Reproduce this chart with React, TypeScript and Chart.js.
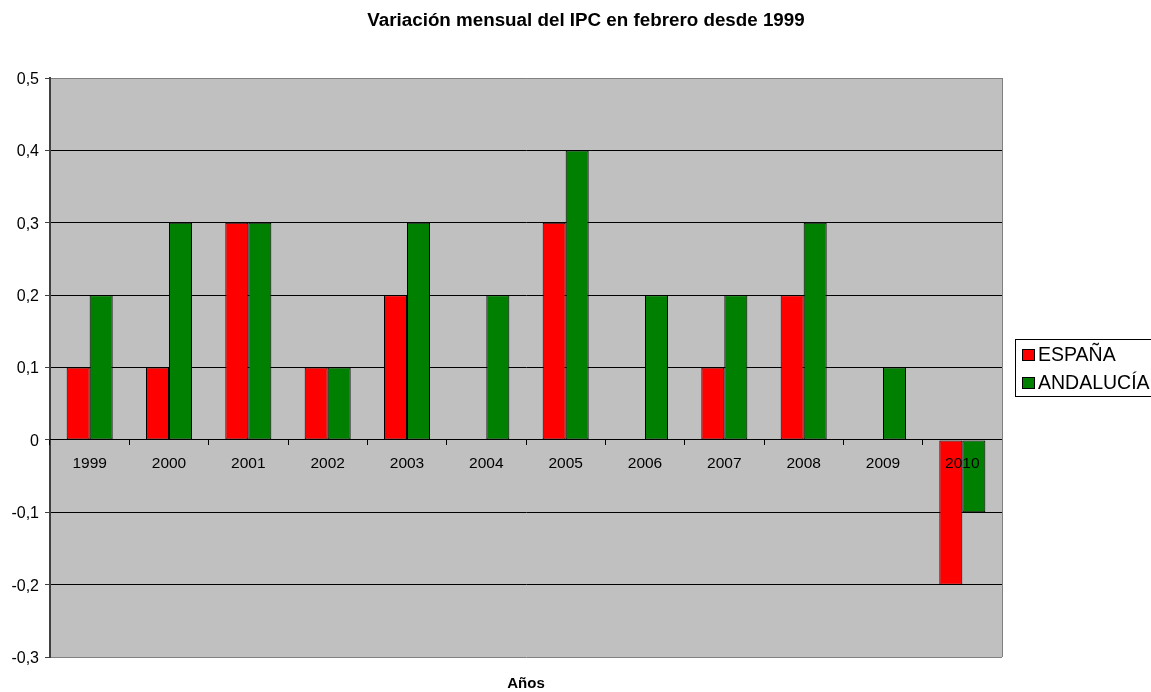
import React, { useEffect, useRef } from "react";
import { Chart, registerables } from "chart.js";

Chart.register(...registerables);

const categories = ["1999", "2000", "2001", "2002", "2003", "2004", "2005", "2006", "2007", "2008", "2009", "2010"];
const espana = [0.1, 0.1, 0.3, 0.1, 0.2, 0, 0.3, 0, 0.1, 0.2, 0, -0.2];
const andalucia = [0.2, 0.3, 0.3, 0.1, 0.3, 0.2, 0.4, 0.2, 0.2, 0.3, 0.1, -0.1];
const seriesNames = ["ESPAÑA", "ANDALUCÍA"];
const seriesColors = ["#FF0000", "#008000"];
const titleText = "Variación mensual del IPC en febrero desde 1999";
const xTitle = "Años";
const FONT = "Arial, 'Liberation Sans', sans-serif";

const decorPlugin = {
  id: "decor",
  beforeDraw(chart: any) {
    const { ctx, chartArea } = chart;
    ctx.save();
    ctx.fillStyle = "#FFFFFF";
    ctx.fillRect(0, 0, chart.width, chart.height);
    ctx.fillStyle = "#C0C0C0";
    ctx.fillRect(chartArea.left, chartArea.top, chartArea.right - chartArea.left, chartArea.bottom - chartArea.top);
    ctx.restore();
  },
  afterDraw(chart: any) {
    const { ctx, chartArea } = chart;
    ctx.save();
    // right border of plot
    ctx.strokeStyle = "#808080";
    ctx.lineWidth = 1;
    ctx.beginPath();
    ctx.moveTo(Math.round(chartArea.right) + 0.5, chartArea.top);
    ctx.lineTo(Math.round(chartArea.right) + 0.5, chartArea.bottom);
    ctx.stroke();
    // title
    ctx.fillStyle = "#000000";
    ctx.textAlign = "center";
    ctx.textBaseline = "middle";
    ctx.font = `bold 18.8px ${FONT}`;
    ctx.fillText(titleText, 586, 21);
    ctx.font = `bold 15px ${FONT}`;
    ctx.fillText(xTitle, 526, 684);
    // legend
    const lx = 1015.5, ly = 339.5;
    ctx.fillStyle = "#FFFFFF";
    ctx.fillRect(lx, ly, 150, 57);
    ctx.strokeStyle = "#000000";
    ctx.strokeRect(lx, ly, 150, 57);
    ctx.textAlign = "left";
    ctx.font = `19.5px ${FONT}`;
    chart.data.datasets.forEach((ds: any, i: number) => {
      const cy = 355 + i * 28;
      ctx.fillStyle = ds.backgroundColor;
      ctx.fillRect(1022, cy - 6, 13, 12);
      ctx.strokeStyle = "#000000";
      ctx.strokeRect(1022.5, cy - 5.5, 12, 11);
      ctx.fillStyle = "#000000";
      ctx.fillText(ds.label, 1038, cy + 1);
    });
    ctx.restore();
  },
};

const fmt = (v: number) => {
  const r = Math.round(v * 10) / 10;
  if (r === 0) return "0";
  return r.toFixed(1).replace(".", ",");
};

export default function App() {
  const ref = useRef<HTMLCanvasElement>(null);
  useEffect(() => {
    document.body.style.margin = "0";
    const chart = new Chart(ref.current!, {
      type: "bar",
      data: {
        labels: categories,
        datasets: [
          {
            label: seriesNames[0],
            data: espana,
            backgroundColor: seriesColors[0],
            borderColor: "#000000",
            borderWidth: 1,
            borderSkipped: false,
            categoryPercentage: 0.58,
            barPercentage: 1,
          },
          {
            label: seriesNames[1],
            data: andalucia,
            backgroundColor: seriesColors[1],
            borderColor: "#000000",
            borderWidth: 1,
            borderSkipped: false,
            categoryPercentage: 0.58,
            barPercentage: 1,
          },
        ],
      },
      options: {
        responsive: false,
        animation: false,
        layout: { padding: { left: 0, right: 149, top: 78, bottom: 35 } },
        plugins: {
          legend: { display: false },
          title: { display: false },
          tooltip: { enabled: false },
        },
        scales: {
          x: {
            position: { y: 0 } as any,
            offset: true,
            grid: {
              offset: true,
              drawOnChartArea: false,
              drawTicks: true,
              tickLength: 5,
              color: "#000000",
              z: 1,
            },
            border: { display: true, color: "#000000", width: 1, z: 1 },
            ticks: {
              color: "#000000",
              font: { family: FONT, size: 15.5 },
              padding: 10,
              maxRotation: 0,
              autoSkip: false,
              z: 2,
            },
          },
          y: {
            min: -0.3,
            max: 0.5,
            afterFit: (s: any) => {
              s.width = 50;
            },
            ticks: {
              stepSize: 0.1,
              color: "#000000",
              font: { family: FONT, size: 16 },
              padding: 6,
              labelOffset: 1.5,
              callback: (v: any) => fmt(Number(v)),
            },
            grid: {
              color: (c: any) => {
                const v = c.tick ? Math.round(c.tick.value * 10) / 10 : 0;
                return v === 0.5 || v === -0.3 ? "#808080" : "#000000";
              },
              tickColor: "#404040",
              tickLength: 5,
              lineWidth: 1,
            },
            border: { display: true, color: "#404040", width: 2 },
          },
        },
      },
      plugins: [decorPlugin],
    });
    return () => chart.destroy();
  }, []);
  return (
    <div style={{ position: "fixed", left: 0, top: 0, width: 1151, height: 692 }}>
      <canvas ref={ref} width={1151} height={692} style={{ display: "block" }} />
    </div>
  );
}
